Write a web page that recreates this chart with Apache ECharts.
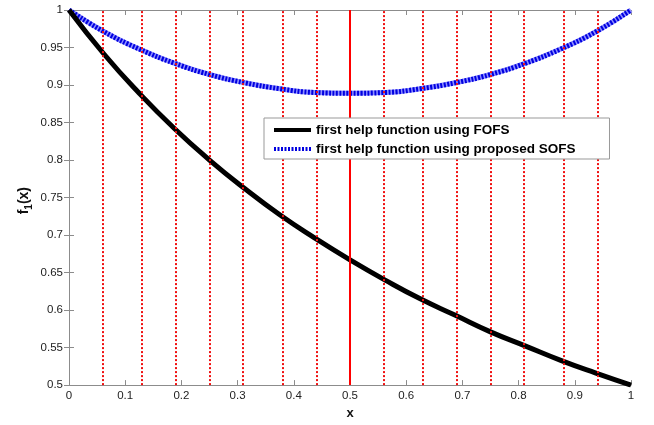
<!DOCTYPE html>
<html>
<head>
<meta charset="utf-8">
<script src="https://cdn.jsdelivr.net/npm/echarts@6/dist/echarts.min.js"></script>
<style>
  html, body { margin: 0; padding: 0; background: #fff; }
  #chart { width: 654px; height: 425px; }
</style>
</head>
<body>
<div id="chart"></div>
<script>
// sample points along x (1/16 steps)
const xs = [0, 0.0625, 0.125, 0.1875, 0.25, 0.3125, 0.375, 0.4375, 0.5,
  0.5625, 0.625, 0.6875, 0.75, 0.8125, 0.875, 0.9375, 1];
// first help function using FOFS
const fofs = [1, 0.941, 0.889, 0.842, 0.8, 0.762, 0.727, 0.696, 0.667,
  0.64, 0.615, 0.593, 0.571, 0.552, 0.533, 0.516, 0.5];
// first help function using proposed SOFS
const sofs = [1, 0.971, 0.948, 0.929, 0.914, 0.903, 0.895, 0.890, 0.889,
  0.890, 0.895, 0.903, 0.914, 0.929, 0.948, 0.971, 1];
// red vertical guides
const dottedX = [0.0625, 0.125, 0.1875, 0.25, 0.3125, 0.375, 0.4375,
  0.5625, 0.625, 0.6875, 0.75, 0.8125, 0.875, 0.9375];
const solidX = [0.5];

const names = ['first help function using FOFS', 'first help function using proposed SOFS'];

const pairs = (ys) => xs.map((x, i) => [x, ys[i]]);

const chart = echarts.init(document.getElementById('chart'));

const axisGrey = '#8c8c8c';
const font = 'Liberation Sans, Arial, sans-serif';
const labelStyle = { color: '#222', fontSize: 11.5, fontFamily: font };

const option = {
  animation: false,
  grid: { left: 69, top: 10, right: 23, bottom: 36 },
  legend: {
    data: names,
    orient: 'vertical',
    left: 264,
    top: 118,
    z: 20,
    padding: [5, 34, 3, 8],
    itemGap: 5,
    itemWidth: 37,
    itemHeight: 14,
    itemStyle: { opacity: 0 },
    lineStyle: { width: 4 },
    backgroundColor: '#fff',
    borderColor: '#999',
    borderWidth: 1,
    textStyle: { color: '#000', fontSize: 13.5, fontWeight: 'bold', fontFamily: font }
  },
  // y axis title f1(x), placed beside the axis labels
  graphic: [{
    type: 'text',
    left: 17,
    top: 187,
    rotation: Math.PI / 2,
    style: {
      text: '{a|f}{b|1}{a|(x)}',
      rich: {
        a: { fill: '#111', fontSize: 14, fontWeight: 'bold', fontFamily: font, lineHeight: 20, verticalAlign: 'middle' },
        b: { fill: '#111', fontSize: 10, fontWeight: 'bold', fontFamily: font, lineHeight: 20, verticalAlign: 'bottom', padding: [6, 0, 0, 0] }
      }
    }
  }],
  xAxis: [{
    type: 'value', min: 0, max: 1, interval: 0.1,
    name: 'x', nameLocation: 'middle', nameGap: 17,
    nameTextStyle: { color: '#111', fontSize: 13, fontWeight: 'bold', fontFamily: font },
    axisLine: { lineStyle: { color: axisGrey } },
    axisTick: { inside: true, length: 5, lineStyle: { color: axisGrey } },
    axisLabel: Object.assign({ margin: 5, formatter: (v) => String(+v.toFixed(2)) }, labelStyle),
    splitLine: { show: false }
  }, {
    type: 'value', min: 0, max: 1, interval: 0.1, position: 'top',
    axisLine: { show: true, lineStyle: { color: axisGrey } },
    axisTick: { inside: true, length: 5, lineStyle: { color: axisGrey } },
    axisLabel: { show: false },
    splitLine: { show: false }
  }],
  yAxis: [{
    type: 'value', min: 0.5, max: 1, interval: 0.05,
    axisLine: { show: true, lineStyle: { color: axisGrey } },
    axisTick: { inside: true, length: 5, lineStyle: { color: axisGrey } },
    axisLabel: Object.assign({ margin: 6, formatter: (v) => String(+v.toFixed(2)) }, labelStyle),
    splitLine: { show: false }
  }, {
    type: 'value', min: 0.5, max: 1, interval: 0.05, position: 'right',
    axisLine: { show: true, lineStyle: { color: axisGrey } },
    axisTick: { inside: true, length: 5, lineStyle: { color: axisGrey } },
    axisLabel: { show: false },
    splitLine: { show: false }
  }],
  series: [
    {
      name: 'sofs-under', type: 'line', data: pairs(sofs), smooth: true, symbol: 'none',
      lineStyle: { color: '#8f8fff', width: 5 }, silent: true, z: 1
    },
    {
      name: names[1], type: 'line', data: pairs(sofs), smooth: true, symbol: 'none',
      color: '#0000e0',
      lineStyle: { color: '#0000e0', width: 5, type: [2, 1.5] }, z: 2
    },
    {
      name: names[0], type: 'line', data: pairs(fofs), smooth: true, symbol: 'none',
      color: '#000',
      lineStyle: { color: '#000', width: 5 }, z: 2
    },
    {
      name: 'guides', type: 'line', data: [], z: 3, silent: true,
      markLine: {
        silent: true, symbol: 'none', label: { show: false }, animation: false,
        data: dottedX.map((x) => ({ xAxis: x, lineStyle: { color: '#f01010', width: 2, type: [2, 2] } }))
          .concat(solidX.map((x) => ({ xAxis: x, lineStyle: { color: '#ff0000', width: 2, type: 'solid' } })))
      }
    }
  ]
};

chart.setOption(option);
</script>
</body>
</html>
